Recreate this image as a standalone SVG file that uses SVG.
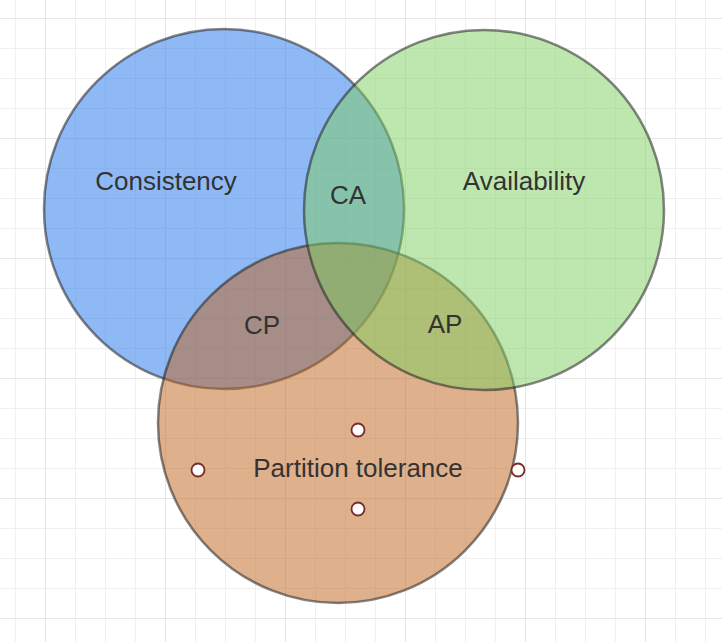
<svg xmlns="http://www.w3.org/2000/svg" width="722" height="642" viewBox="0 0 722 642">
<defs>
<pattern id="minor" x="15" y="18" width="30" height="30" patternUnits="userSpaceOnUse">
<path d="M0 0H30M0 0V30" fill="none" stroke="#f0f0f0" stroke-width="2"/>
</pattern>
<pattern id="major" x="45" y="18" width="120" height="120" patternUnits="userSpaceOnUse">
<path d="M0 0H120M0 0V120" fill="none" stroke="#e6e6e6" stroke-width="2"/>
</pattern>
</defs>
<style>
.set{stroke:#222;stroke-opacity:0.55;stroke-width:2.5;fill-opacity:0.5}
.lbl{font-family:"Liberation Sans",Arial,sans-serif;font-size:26px;fill:#333;text-anchor:middle}
.pt{fill:#fff;stroke:#7a2a2a;stroke-width:1.8}
</style>
<rect width="722" height="642" fill="#fff"/>
<rect width="722" height="642" fill="url(#minor)"/>
<rect width="722" height="642" fill="url(#major)"/>
<g id="consistency">
<circle class="set" cx="224" cy="209" r="180" fill="#1d73eb"/>
</g>
<g id="partition-tolerance">
<circle class="set" cx="338" cy="423" r="180" fill="#bd6119"/>
</g>
<g id="availability">
<circle class="set" cx="484" cy="210" r="180" fill="#7dcd5f"/>
</g>
<g id="labels">
<text class="lbl" x="166" y="190">Consistency</text>
<text class="lbl" x="524" y="190">Availability</text>
<text class="lbl" x="348" y="204">CA</text>
<text class="lbl" x="262" y="334">CP</text>
<text class="lbl" x="445" y="333">AP</text>
</g>
<g id="partition-label">
<text class="lbl" x="358" y="477">Partition tolerance</text>
<circle class="pt" cx="358" cy="430" r="6.5"/>
<circle class="pt" cx="198" cy="470" r="6.5"/>
<circle class="pt" cx="518" cy="470" r="6.5"/>
<circle class="pt" cx="358" cy="509" r="6.5"/>
</g>
<g id="connectors"/>
</svg>
